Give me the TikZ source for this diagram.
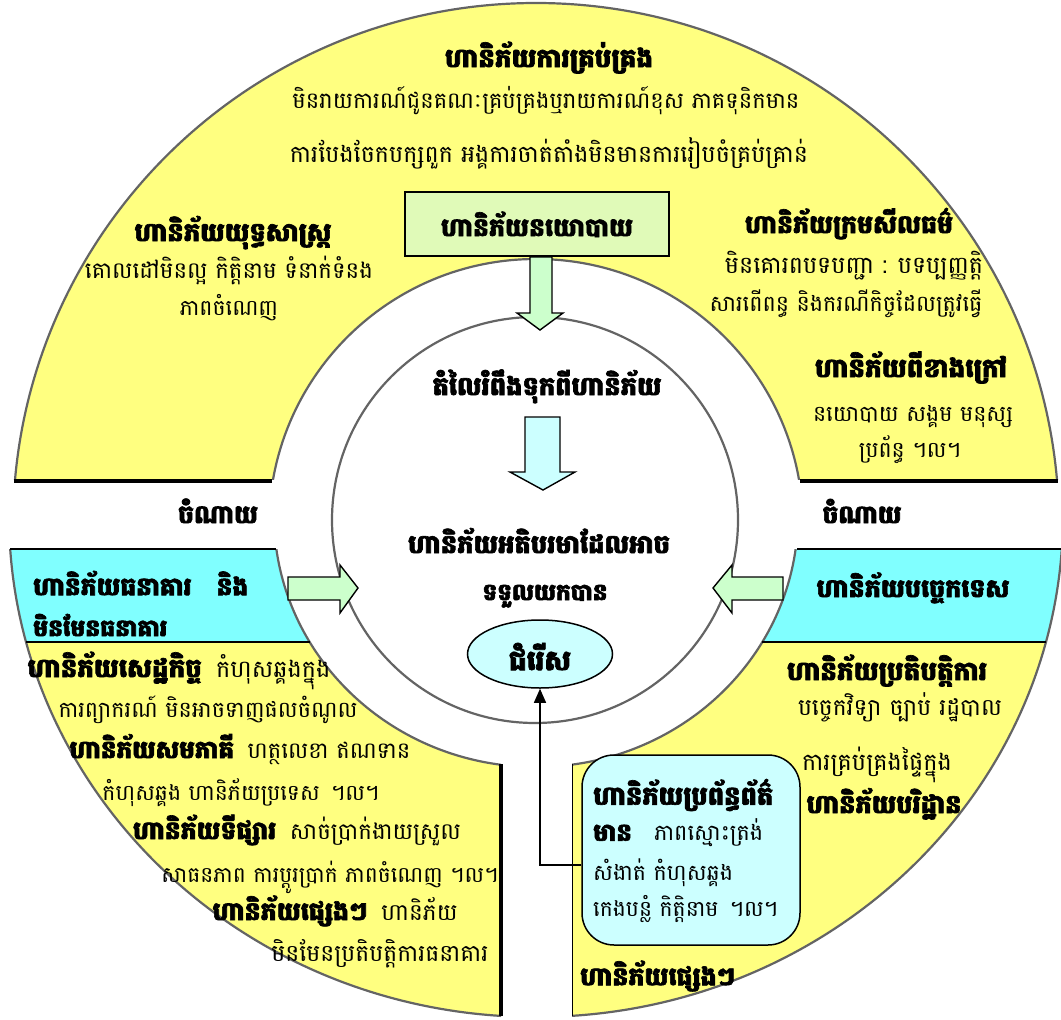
\documentclass[tikz,border=0pt]{standalone}
\usepackage{fontspec}
\usepackage{graphicx}
\newfontfamily\kh[Script=Khmer, BoldFeatures={FakeBold=2.5}]{Battambang}
\usetikzlibrary{arrows.meta,shapes.geometric}
\definecolor{ylw}{RGB}{255,255,128}
\definecolor{cyn}{RGB}{128,255,255}
\definecolor{lgreen}{RGB}{204,255,204}
\definecolor{lcyan}{RGB}{204,255,255}
\definecolor{polg}{RGB}{224,250,184}
\definecolor{edgec}{RGB}{100,100,100}
\newcommand{\B}[1]{{\bfseries\fontsize{24}{26}\selectfont #1}}
\newcommand{\fitw}[2]{\resizebox{#1pt}{!}{#2}}
\tikzset{
  tx/.style={font=\kh\fontsize{22}{24}\selectfont, inner sep=0pt, anchor=mid, yshift=-6pt},
  bx/.style={font=\kh\bfseries\fontsize{25}{28}\selectfont, inner sep=0pt, anchor=mid, yshift=-8pt},
  rim/.style={draw=edgec, line width=2.2pt},
  blockarrow/.style={draw=black, line width=1.4pt, line join=miter},
}
\begin{document}
\begin{tikzpicture}[x=1pt,y=-1pt]
\useasboundingbox (0,0) rectangle (1061,1020);
% ---------- top half ring ----------
\begin{scope}
  \clip (0,0) rectangle (1061,479);
  \fill[ylw, even odd rule] (536,526) circle[radius=523pt] (536,526) circle[radius=267pt];
  \draw[rim] (536,526) circle[radius=523pt] (536,526) circle[radius=267pt];
\end{scope}
\draw[line width=4pt] (14,481) -- (272,481);
\draw[line width=4pt] (800,481) -- (1058,481);
% ---------- bottom-left quadrant ----------
\begin{scope}
  \clip (0,549) rectangle (501,1020);
  \fill[ylw, even odd rule] (536,515) ellipse[x radius=527pt, y radius=502pt] (536,515) ellipse[x radius=262pt, y radius=252pt];
  \begin{scope}
    \clip (0,549) rectangle (501,642);
    \fill[cyn, even odd rule] (0,0) rectangle (1061,1020) (536,515) ellipse[x radius=262pt, y radius=252pt];
  \end{scope}
  \fill[white, even odd rule] (0,0) rectangle (1061,1020) (536,515) ellipse[x radius=527pt, y radius=502pt];
  \draw[rim] (536,515) ellipse[x radius=527pt, y radius=502pt] (536,515) ellipse[x radius=262pt, y radius=252pt];
\end{scope}
\draw[line width=1.2pt] (10,549) -- (276,549);
\draw[line width=1.2pt] (26,642) -- (310,642);
\draw[line width=4pt] (501,764) -- (501,1016);
% ---------- bottom-right quadrant ----------
\begin{scope}
  \clip (572,549) rectangle (1061,1020);
  \fill[ylw, even odd rule] (536,515) ellipse[x radius=527pt, y radius=502pt] (536,515) ellipse[x radius=262pt, y radius=252pt];
  \begin{scope}
    \clip (572,549) rectangle (1061,642);
    \fill[cyn, even odd rule] (0,0) rectangle (1061,1020) (536,515) ellipse[x radius=262pt, y radius=252pt];
  \end{scope}
  \fill[white, even odd rule] (0,0) rectangle (1061,1020) (536,515) ellipse[x radius=527pt, y radius=502pt];
  \draw[rim] (536,515) ellipse[x radius=527pt, y radius=502pt] (536,515) ellipse[x radius=262pt, y radius=252pt];
\end{scope}
\draw[line width=1.2pt] (797,549) -- (1061,549);
\draw[line width=1.2pt] (762,642) -- (1046,642);
\draw[line width=1.2pt] (572.6,764) -- (572.6,1016);
% ---------- inner white circle ----------
\draw[rim, fill=white] (535,520) circle[radius=203pt];
% ---------- policy box and arrows ----------
\node[draw, line width=2pt, fill=polg, minimum width=264pt, minimum height=64pt, inner sep=0pt] (pol) at (537,224) {};
\node[bx] (polt) at (537,226) {\fitw{192}{ហានិភ័យនយោបាយ}};
\draw[blockarrow, fill=lgreen] (530,257) -- (530,313) -- (517,313) -- (540,330) -- (563,313) -- (552,313) -- (552,257) -- cycle;
\draw[blockarrow, fill=lcyan] (525,417) -- (525,472) -- (510,472) -- (543,490) -- (575,472) -- (560,472) -- (560,417) -- cycle;
\draw[blockarrow, fill=lgreen] (288,577) -- (340,577) -- (340,565) -- (358,588) -- (340,613) -- (340,600) -- (288,600) -- cycle;
\draw[blockarrow, fill=lgreen] (783,577) -- (732,577) -- (732,565) -- (713,588) -- (732,613) -- (732,600) -- (783,600) -- cycle;
% ---------- top texts ----------
\node[bx] (t1) at (549,57) {\fitw{208}{ហានិភ័យការគ្រប់គ្រង}};
\node[tx] (t2) at (546,100) {\fitw{507}{មិនរាយការណ៍ជូនគណៈគ្រប់គ្រងឬរាយការណ៍ខុស ភាគទុនិកមាន}};
\node[tx] (t3) at (549,154) {\fitw{518}{ការបែងចែកបក្សពួក អង្គការចាត់តាំងមិនមានការរៀបចំគ្រប់គ្រាន់}};
\node[bx] (s1) at (233,231) {\fitw{197}{ហានិភ័យយុទ្ធសាស្ត្រ}};
\node[tx] (s2) at (229,270) {\fitw{288}{គោលដៅមិនល្អ កិត្តិនាម ទំនាក់ទំនង}};
\node[tx] (s3) at (229,307) {ភាពចំណេញ};
\node[bx] (e1) at (849,223) {\fitw{208}{ហានិភ័យក្រមសីលធម៌}};
\node[tx] (e2) at (854,265) {\fitw{258}{មិនគោរពបទបញ្ជា : បទប្បញ្ញត្តិ}};
\node[tx] (e3) at (846,303) {\fitw{273}{សារពើពន្ធ និងករណីកិច្ចដែលត្រូវធ្វើ}};
\node[bx] (x1) at (911,367) {\fitw{192}{ហានិភ័យពីខាងក្រៅ}};
\node[tx] (x2) at (913,413) {\fitw{200}{នយោបាយ សង្គម មនុស្ស}};
\node[tx] (x3) at (910,449) {ប្រព័ន្ធ ។ល។};
% ---------- centre ----------
\node[bx] (c1) at (547,385) {\fitw{229}{តំលៃរំពឹងទុកពីហានិភ័យ}};
\node[bx] (c2) at (539,543) {\fitw{262}{ហានិភ័យអតិបរមាដែលអាច}};
\node[bx] (c3) at (545,590) {\fitw{125}{ទទួលយកបាន}};
\node[ellipse, draw, line width=1.5pt, fill=lcyan, minimum width=145pt, minimum height=68pt, inner sep=0pt] (choice) at (540,654) {};
\node[bx] (chtxt) at (540,660) {\fitw{62}{ជំរើស}};
% ---------- cost labels ----------
\node[bx] (costl) at (218,513) {\fitw{80}{ចំណាយ}};
\node[bx] (costr) at (862,513) {\fitw{79}{ចំណាយ}};
% ---------- cyan headers ----------
\node[bx, anchor=west] (b1) at (33,575) {\fitw{215}{ហានិភ័យធនាគារ\hspace{1em}និង}};
\node[bx, anchor=west] (b2) at (33,617) {\fitw{134}{មិនមែនធនាគារ}};
\node[bx] (tech) at (913,587) {\fitw{193}{ហានិភ័យបច្ចេកទេស}};
% ---------- bottom-left texts ----------
\node[tx] (l1) at (179,669) {\fitw{303}{\B{ហានិភ័យសេដ្ឋកិច្ច}\hspace{0.6em}កំហុសឆ្គងក្នុង}};
\node[tx] (l2) at (208,709) {\fitw{299}{ការព្យាករណ៍ មិនអាចទាញផលចំណូល}};
\node[tx] (l3) at (240,750) {\fitw{341}{\B{ហានិភ័យសមភាគី}\hspace{0.6em}ហត្ថលេខា ឥណទាន}};
\node[tx] (l4) at (241,792) {\fitw{277}{កំហុសឆ្គង ហានិភ័យប្រទេស\hspace{0.5em}។ល។}};
\node[tx] (l5) at (297,831) {\fitw{328}{\B{ហានិភ័យទីផ្សារ}\hspace{0.6em}សាច់ប្រាក់ងាយស្រួល}};
\node[tx] (l6) at (330,874) {\fitw{337}{សាធនភាព ការប្តូរប្រាក់ ភាពចំណេញ ។ល។}};
\node[tx] (l7) at (335,912) {\fitw{245}{\B{ហានិភ័យផ្សេងៗ}\hspace{0.6em}ហានិភ័យ}};
\node[tx] (l8) at (380,953) {\fitw{217}{មិនមែនប្រតិបត្តិការធនាគារ}};
% ---------- bottom-right texts ----------
\node[bx] (r1) at (887,670) {\fitw{200}{ហានិភ័យប្រតិបត្តិការ}};
\node[tx] (r2) at (900,707) {\fitw{204}{បច្ចេកវិទ្យា ច្បាប់ រដ្ឋបាល}};
\node[tx] (r3) at (877,762) {\fitw{150}{ការគ្រប់គ្រងផ្ទៃក្នុង}};
\node[bx] (r4) at (884,803) {\fitw{155}{ហានិភ័យបរិដ្ឋាន}};
\node[draw, line width=1.5pt, rounded corners=32pt, fill=lcyan, minimum width=218pt, minimum height=190pt, inner sep=0pt] (info) at (691,850) {};
\node[bx, anchor=west] (i1) at (593,787) {\fitw{180}{ហានិភ័យប្រព័ន្ធព័ត៌}};
\node[tx, anchor=west] (i2) at (593,827) {\fitw{170}{\B{មាន}\hspace{1em}ភាពស្មោះត្រង់}};
\node[tx, anchor=west] (i3) at (593,867) {\fitw{140}{សំងាត់ កំហុសឆ្គង}};
\node[tx, anchor=west] (i4) at (593,903) {\fitw{185}{កេងបន្លំ កិត្តិនាម\hspace{0.5em}។ល។}};
\node[bx, anchor=west] (r5) at (580,968) {\fitw{155}{ហានិភ័យផ្សេងៗ}};
% ---------- connector ----------
\coordinate (cfrom) at (info.west |- 0,865);
\coordinate (cturn) at (choice.south |- 0,865);
\draw[line width=1.3pt, -{Triangle[length=14pt,width=12pt]}] (cfrom) -- (cturn) -- (choice.south);
\end{tikzpicture}
\end{document}
